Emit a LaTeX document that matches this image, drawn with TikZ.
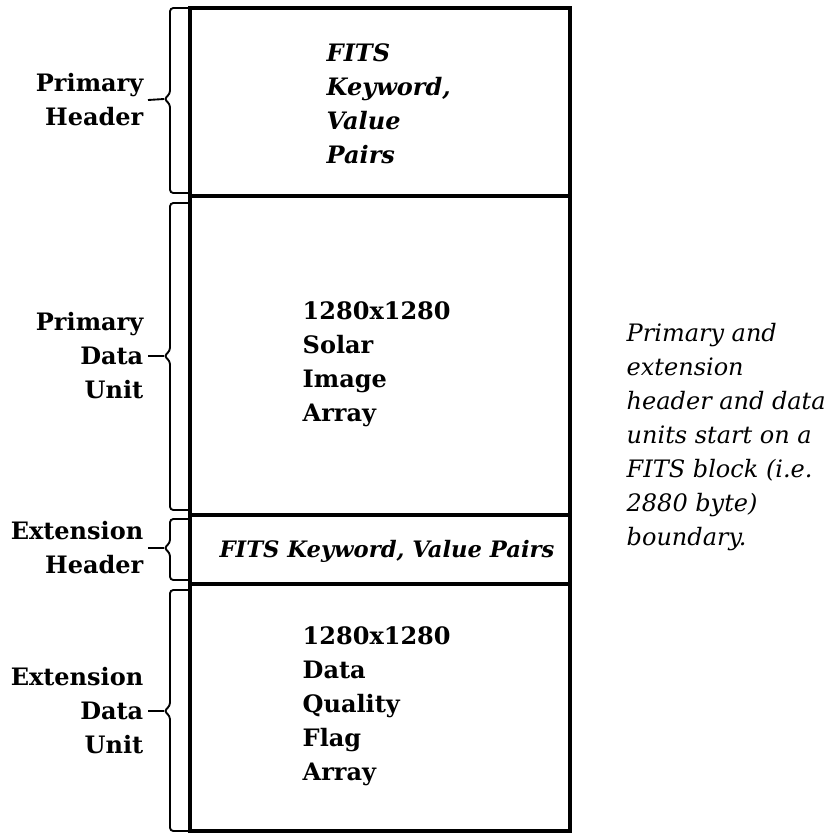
\documentclass[tikz,border=0pt]{standalone}
\usepackage{fontspec}
\setmainfont{DejaVu Serif}
\newcommand{\fitsfont}{\fontsize{18}{25.5}\selectfont}
\tikzset{
	unitbox/.style={line width=2.4pt},
	bracket/.style={line width=1.4pt, rounded corners=2.5pt},
	unitlabel/.style={anchor=east, align=right, font=\fitsfont\bfseries},
	arraytext/.style={anchor=west, align=left, font=\fitsfont\bfseries},
	keytext/.style={anchor=west, align=left, font=\fitsfont\bfseries\itshape},
	note/.style={anchor=west, align=left, font=\fitsfont\itshape}
}

\begin{document}
\begin{tikzpicture}[x=0.75pt, y=-0.75pt]
        \useasboundingbox (0, 0) rectangle (828, 833);
        % the four units
        \draw [unitbox] (190, 8) rectangle (570, 196);
        \draw [unitbox] (190, 196) rectangle (570, 515);
        \draw [unitbox] (190, 515) rectangle (570, 584);
        \draw [unitbox] (190, 584) rectangle (570, 831);
        \node [keytext] (phText) at (322, 104) {FITS\\Keyword,\\Value\\Pairs};
        \node [arraytext] (pdText) at (298, 364) {1280x1280\\Solar\\Image\\Array};
        \node [keytext, anchor=center, font=\fontsize{17}{24}\selectfont\bfseries\itshape] (ehText) at (387, 551) {FITS Keyword, Value Pairs};
        \node [arraytext] (edText) at (298, 706) {1280x1280\\Data\\Quality\\Flag\\Array};
        % braces
        \draw [bracket] (190, 8) -- (170, 8) -- (170, 94) -- (164, 99) coordinate (phTip) -- (170, 104) -- (170, 193) -- (190, 193);
        \draw [bracket] (190, 203) -- (170, 203) -- (170, 351) -- (164, 356) coordinate (pdTip) -- (170, 361) -- (170, 510) -- (190, 510);
        \draw [bracket] (190, 519) -- (170, 519) -- (170, 543) -- (164, 548) coordinate (ehTip) -- (170, 553) -- (170, 580) -- (190, 580);
        \draw [bracket] (190, 590) -- (170, 590) -- (170, 706) -- (164, 711) coordinate (edTip) -- (170, 716) -- (170, 831) -- (190, 831);
        \node [unitlabel] (phLabel) at (148, 100) {Primary\\Header};
        \node [unitlabel] (pdLabel) at (148, 356) {Primary\\Data\\Unit};
        \node [unitlabel] (ehLabel) at (148, 548) {Extension\\Header};
        \node [unitlabel] (edLabel) at (148, 711) {Extension\\Data\\Unit};
        \draw [bracket] (phTip) -- (phLabel.east);
        \draw [bracket] (pdTip) -- (pdLabel.east);
        \draw [bracket] (ehTip) -- (ehLabel.east);
        \draw [bracket] (edTip) -- (edLabel.east);
        \node [note] (blockNote) at (622, 437) {Primary and\\extension\\header and data\\units start on a\\FITS block (i.e.\\2880 byte)\\boundary.};
    \end{tikzpicture}
\end{document}
